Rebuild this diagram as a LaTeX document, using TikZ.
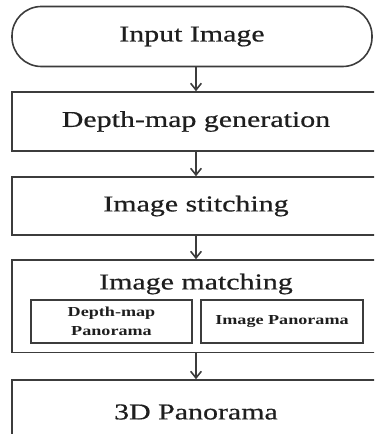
\documentclass[tikz,border=0pt]{standalone}
\usepackage{fontspec}
\setmainfont{Liberation Serif}[FakeStretch=1.32]
\newfontfamily\heavyfont{Liberation Serif}[FakeStretch=1.32, FakeBold=0.6]
\usepackage{tikz}
\usetikzlibrary{arrows.meta}

\definecolor{lineclr}{HTML}{3C3C3C}
\definecolor{txtclr}{HTML}{1E1E1E}

\begin{document}
\begin{tikzpicture}[x=0.75pt,y=0.75pt,yscale=-1,xscale=1,
  box/.style={draw=lineclr, line width=1.2pt, minimum width=276pt, text=txtclr,
    font=\heavyfont\fontsize{17}{20}\selectfont, inner sep=0pt},
  subbox/.style={draw=lineclr, line width=1.2pt, minimum height=32.25pt, text=txtclr,
    font=\fontsize{10.3}{14.3}\selectfont\bfseries, align=center, inner sep=0pt},
  arr/.style={draw=lineclr, line width=1.2pt, -{Straight Barb[length=5pt,width=8pt]}}]

\path[use as bounding box, clip] (0,0) rectangle (374,434);

\node [box, minimum width=270pt, minimum height=45pt, rounded corners=22pt] (inimg) at (192,36.5) {Input Image};
\node [box, minimum height=44.25pt] (depth) at (196,121.5) {Depth-map generation};
\node [box, minimum height=43.5pt] (stitch) at (196,206) {Image stitching};
\node [box, minimum height=69.4pt] (match) at (196,306.3) {};
\node [text=txtclr, font=\heavyfont\fontsize{17}{20}\selectfont, inner sep=0pt] (matchlbl) at (196,284) {Image matching};
\node [subbox, minimum width=120.75pt] (dpano) at (111.5,321.5) {Depth-map\\Panorama};
\node [subbox, minimum width=121.5pt] (ipano) at (282,321.5) {Image Panorama};
\node [box, minimum height=48pt] (pano) at (196,412) {3D Panorama};

\draw[arr] (inimg.south -| depth.north) -- (depth.north);
\draw[arr] (depth.south) -- (stitch.north);
\draw[arr] (stitch.south) -- (match.north);
\draw[arr] (match.south) -- (pano.north);

\end{tikzpicture}
\end{document}
